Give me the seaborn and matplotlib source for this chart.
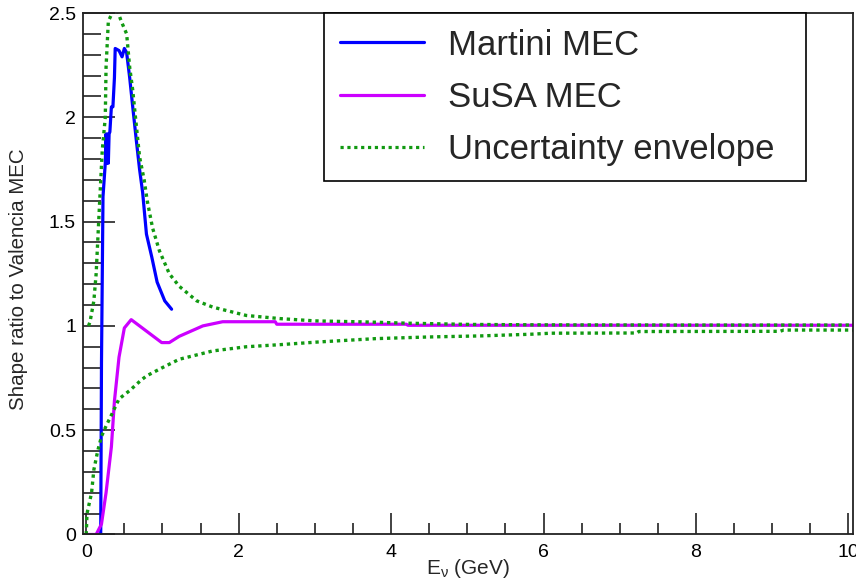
import numpy as np
import pandas as pd
import seaborn as sns
import matplotlib
matplotlib.use("Agg")
import matplotlib.pyplot as plt
from matplotlib.ticker import MultipleLocator, FuncFormatter

# Martini MEC / Valencia MEC shape ratio
martini_e = [0.19, 0.195, 0.20, 0.22, 0.25, 0.26, 0.27, 0.28, 0.29, 0.30, 0.31, 0.33,
             0.35, 0.37, 0.38, 0.43, 0.47, 0.50, 0.53, 0.57, 0.61, 0.66, 0.70, 0.74,
             0.79, 0.86, 0.93, 1.03, 1.12]
martini_r = [0.0, 0.40, 0.82, 1.62, 1.78, 1.92, 1.78, 1.92, 1.78, 1.92, 1.93, 2.05,
             2.05, 2.19, 2.33, 2.32, 2.29, 2.33, 2.31, 2.19, 2.05, 1.88, 1.75, 1.64,
             1.44, 1.33, 1.21, 1.12, 1.08]

# SuSA MEC / Valencia MEC shape ratio
susa_e = [0.0, 0.13, 0.20, 0.26, 0.33, 0.37, 0.43, 0.50, 0.59, 0.99, 1.09, 1.22,
          1.53, 1.79, 2.48, 2.50, 4.20, 4.22, 10.1]
susa_r = [0.0, 0.0, 0.05, 0.20, 0.42, 0.64, 0.85, 0.99, 1.03, 0.92, 0.92, 0.95,
          1.00, 1.02, 1.02, 1.008, 1.008, 1.003, 1.003]

# Uncertainty envelope, upper edge
upper_e = [0.03, 0.05, 0.10, 0.13, 0.17, 0.21, 0.25, 0.26, 0.29, 0.34, 0.40, 0.46,
           0.53, 0.57, 0.61, 0.66, 0.70, 0.76, 0.80, 0.87, 0.96, 1.09, 1.22, 1.45,
           1.66, 2.10, 2.54, 3.00, 3.66, 4.21, 5.04, 6.00, 8.00, 10.1]
upper_r = [1.0, 1.02, 1.12, 1.25, 1.55, 1.84, 2.00, 2.24, 2.46, 2.50, 2.52, 2.46,
           2.40, 2.24, 2.13, 1.95, 1.81, 1.70, 1.60, 1.47, 1.36, 1.25, 1.19, 1.12,
           1.09, 1.05, 1.035, 1.024, 1.019, 1.013, 1.007, 1.005, 1.004, 1.004]

# Uncertainty envelope, lower edge
lower_e = [0.0, 0.01, 0.07, 0.10, 0.15, 0.20, 0.26, 0.34, 0.43, 0.57, 0.72, 0.79,
           1.00, 1.22, 1.66, 2.10, 2.54, 3.05, 3.80, 4.50, 5.17, 5.83, 6.10, 7.22,
           7.25, 9.10, 9.15, 10.1]
lower_r = [0.0, 0.10, 0.20, 0.31, 0.40, 0.47, 0.52, 0.58, 0.65, 0.69, 0.74, 0.76,
           0.80, 0.84, 0.88, 0.90, 0.91, 0.923, 0.939, 0.947, 0.952, 0.960, 0.965, 0.966,
           0.973, 0.974, 0.980, 0.980]

x_ticks = [0, 2, 4, 6, 8, 10]
y_ticks = [0, 0.5, 1.0, 1.5, 2.0, 2.5]

sns.set_theme(style="ticks")
plt.rcParams["font.family"] = ["Liberation Sans", "DejaVu Sans"]
plt.rcParams["mathtext.fontset"] = "custom"
plt.rcParams["mathtext.rm"] = "Liberation Sans"
plt.rcParams["mathtext.it"] = "Liberation Sans"

fig = plt.figure(figsize=(8.56, 5.83), dpi=100)
ax = fig.add_axes([0.097, 0.0832, 0.8995, 0.8945])

blue = "#0000ff"
violet = "#cc00ff"
green = "#119911"
dot = (0, (1.0, 1.15))

sns.lineplot(x=martini_e, y=martini_r, ax=ax, color=blue, lw=2.3,
             sort=False, estimator=None, label="Martini MEC")
sns.lineplot(x=susa_e, y=susa_r, ax=ax, color=violet, lw=2.3,
             sort=False, estimator=None, label="SuSA MEC")
sns.lineplot(x=upper_e, y=upper_r, ax=ax, color=green, lw=2.4, linestyle=dot,
             sort=False, estimator=None, label="Uncertainty envelope")
sns.lineplot(x=lower_e, y=lower_r, ax=ax, color=green, lw=2.4, linestyle=dot,
             sort=False, estimator=None, label="_nolegend_")

ax.set_xlim(-0.042, 10.06)
ax.set_ylim(0, 2.5)
ax.set_xticks(x_ticks)
ax.set_yticks(y_ticks)
ax.xaxis.set_minor_locator(MultipleLocator(0.5))
ax.yaxis.set_minor_locator(MultipleLocator(0.1))
fmt = FuncFormatter(lambda v, p: f"{v:g}")
ax.xaxis.set_major_formatter(fmt)
ax.yaxis.set_major_formatter(fmt)
ax.tick_params(which="both", direction="in", top=False, right=False,
               colors="#222222", labelcolor="black", labelsize=14)
ax.tick_params(axis="x", which="major", length=15, width=1.2, pad=7)
ax.tick_params(axis="x", which="minor", length=8, width=1.2)
ax.tick_params(axis="y", which="major", length=23, width=1.2, pad=5)
ax.tick_params(axis="y", which="minor", length=13, width=1.2)
for s in ax.spines.values():
    s.set_color("#222222")
    s.set_linewidth(1.3)

ax.set_xlabel(r"E$_{\nu}$ (GeV)", fontsize=15, labelpad=-3)
ax.set_ylabel("Shape ratio to Valencia MEC", fontsize=14.8)
ax.yaxis.set_label_coords(-0.0714, 0.49)

leg = ax.legend(loc="upper left", bbox_to_anchor=(0.313, 0.686, 0.626, 0.314),
                mode="expand", fontsize=25, frameon=True, fancybox=False,
                framealpha=1, edgecolor="black", borderpad=0.45, labelspacing=0.55,
                handlelength=2.42, handletextpad=0.7, borderaxespad=0)
leg.get_frame().set_linewidth(1.2)
for h in leg.get_lines():
    h.set_linewidth(2.3)

fig.savefig("out.png", dpi=100, facecolor="white")
